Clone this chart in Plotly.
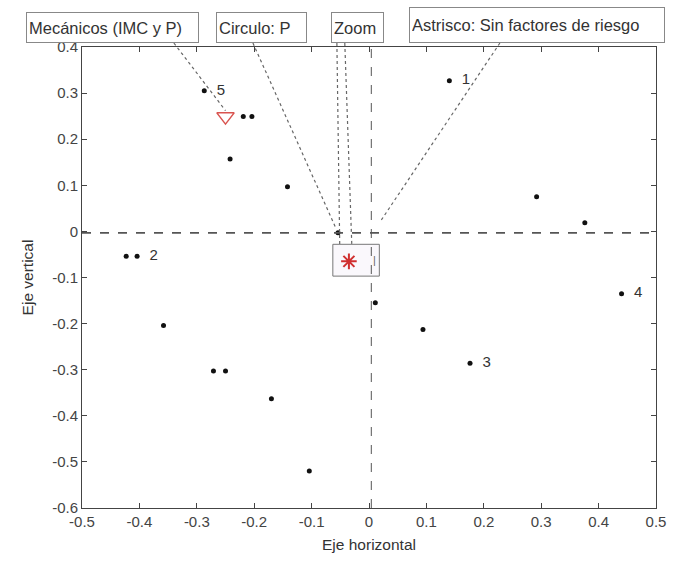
import plotly.graph_objects as go

# Scatter coordinates on the horizontal / vertical axes
pts_x = [0.292, 0.376, 0.011, 0.094, -0.423, -0.358, -0.271, -0.250, -0.170,
         -0.104, -0.219, -0.204, -0.242, -0.142, -0.054]
pts_y = [0.075, 0.019, -0.155, -0.213, -0.054, -0.204, -0.303, -0.303, -0.363,
         -0.520, 0.249, 0.249, 0.157, 0.097, -0.003]

# Numbered points
num_x = [0.140, -0.404, 0.176, 0.440, -0.287]
num_y = [0.327, -0.054, -0.286, -0.135, 0.305]
num_lbl = ["1", "2", "3", "4", "5"]

# Highlighted markers
tri_x, tri_y = [-0.250], [0.249]
ast_x, ast_y = [-0.035], [-0.065]

# Reference lines
h_ref = -0.003
v_ref = 0.004

x_ticks = [-0.5, -0.4, -0.3, -0.2, -0.1, 0, 0.1, 0.2, 0.3, 0.4, 0.5]
x_tick_text = ["-0.5", "-0.4", "-0.3", "-0.2", "-0.1", "0", "0.1", "0.2", "0.3", "0.4", "0.5"]
y_ticks = [-0.6, -0.5, -0.4, -0.3, -0.2, -0.1, 0, 0.1, 0.2, 0.3, 0.4]
y_tick_text = ["-0.6", "-0.5", "-0.4", "-0.3", "-0.2", "-0.1", "0", "0.1", "0.2", "0.3", "0.4"]

W, H = 678, 565
L, R, T, B = 82, 15, 47, 57
PW, PH = W - L - R, H - T - B

def px_to_paper(px, py):
    return (px - L) / PW, (H - B - py) / PH

def data_to_paper(x, y):
    return (x + 0.5) / 1.0, (y + 0.6) / 1.0

FONT = "Liberation Sans, Arial, sans-serif"

fig = go.Figure()

fig.add_trace(go.Scatter(x=pts_x, y=pts_y, mode="markers",
                         marker=dict(color="#111", size=5), hoverinfo="skip"))
fig.add_trace(go.Scatter(x=num_x, y=num_y, mode="markers+text", text=["  " + t for t in num_lbl],
                         textposition="middle right",
                         textfont=dict(family=FONT, size=15, color="#333"),
                         marker=dict(color="#111", size=5), hoverinfo="skip"))
fig.add_trace(go.Scatter(x=tri_x, y=tri_y, mode="markers",
                         marker=dict(symbol="triangle-down-open", color="#d9534f", size=15,
                                     line=dict(width=1.5)), hoverinfo="skip"))

# Zoom box around the asterisk
fig.add_shape(type="rect", xref="x", yref="y", x0=-0.063, x1=0.018, y0=-0.097, y1=-0.028,
              line=dict(color="#777", width=1), fillcolor="rgba(250,248,252,1)", layer="below")
fig.add_trace(go.Scatter(x=ast_x, y=ast_y, mode="markers",
                         marker=dict(symbol="asterisk-open", color="#d03030", size=13,
                                     line=dict(width=2, color="#d03030")), hoverinfo="skip"))
fig.add_annotation(x=0.010, y=-0.063, xref="x", yref="y", text="|", showarrow=False,
                   font=dict(family=FONT, size=11, color="#666"))

# Dashed reference lines
fig.add_shape(type="line", xref="x", yref="y", x0=-0.5, x1=0.5, y0=h_ref, y1=h_ref,
              line=dict(color="#555", width=1.8, dash="dash"))
fig.add_shape(type="line", xref="x", yref="y", x0=v_ref, x1=v_ref, y0=-0.6, y1=0.4,
              line=dict(color="#555", width=1, dash="dash"))

# Dotted leader lines from the text boxes
leaders = [
    ((175, 43), data_to_paper(-0.250, 0.262)),
    ((255, 43), data_to_paper(-0.058, 0.008)),
    ((340, 43), data_to_paper(-0.051, -0.028)),
    ((348, 43), data_to_paper(-0.030, -0.028)),
    ((505, 43), data_to_paper(0.020, 0.022)),
]
for (sx, sy), (ex, ey) in leaders:
    x0, y0 = px_to_paper(sx, sy)
    fig.add_shape(type="line", xref="paper", yref="paper", x0=x0, y0=y0, x1=ex, y1=ey,
                  line=dict(color="#666", width=1.2, dash="dot"))

# Text boxes along the top
boxes = [
    ("Mecánicos (IMC y P)", 20, 205, 12, 43),
    ("Circulo: P", 212, 315, 12, 43),
    ("Zoom", 328, 393, 12, 43),
    ("Astrisco: Sin factores de riesgo", 409, 677, 7, 43),
]
for txt, x0, x1, y0, y1 in boxes:
    cx, cy = px_to_paper((x0 + x1) / 2, (y0 + y1) / 2)
    fig.add_annotation(x=cx, y=cy, xref="paper", yref="paper", text=txt, showarrow=False,
                       xanchor="center", yanchor="middle", align="left", valign="middle",
                       width=x1 - x0 - 18, height=y1 - y0 - 6, borderpad=2,
                       bordercolor="#888", borderwidth=1, bgcolor="white",
                       font=dict(family=FONT, size=16.5, color="#333"))

axis_common = dict(showline=True, linecolor="#444", linewidth=1, mirror="ticks",
                   ticks="inside", ticklen=5, tickcolor="#444", showgrid=False,
                   zeroline=False, tickfont=dict(family=FONT, size=15, color="#444"))

fig.update_layout(
    width=W, height=H, margin=dict(l=L, r=R, t=T, b=B),
    paper_bgcolor="white", plot_bgcolor="white", showlegend=False,
    xaxis=dict(range=[-0.5, 0.5], tickvals=x_ticks, ticktext=x_tick_text,
               title=dict(text="Eje horizontal", font=dict(family=FONT, size=15.5, color="#333"),
                          standoff=10), **axis_common),
    yaxis=dict(range=[-0.6, 0.4], tickvals=y_ticks, ticktext=y_tick_text,
               title=dict(text="Eje vertical", font=dict(family=FONT, size=15.5, color="#333"),
                          standoff=14), **axis_common),
)

fig.write_html("out.html")
